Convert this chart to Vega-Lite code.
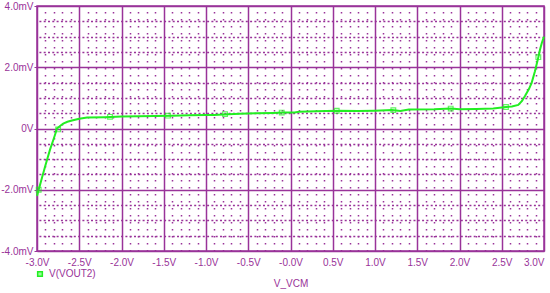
{
  "$schema": "https://vega.github.io/schema/vega-lite/v6.json",
  "autosize": {"type": "none"},
  "width": 507,
  "height": 245,
  "padding": {"left": 37, "top": 6, "right": 6, "bottom": 42},
  "background": "white",
  "config": {
    "view": {"stroke": "#993399", "strokeWidth": 1.5},
    "font": "Liberation Sans",
    "axis": {"labelFont": "Liberation Sans", "titleFont": "Liberation Sans", "labelColor": "#993399", "titleColor": "#993399", "labelFontSize": 10, "titleFontSize": 10, "titleFontWeight": "normal", "domain": false, "gridOpacity": 1},
    "legend": {"labelFont": "Liberation Sans", "labelColor": "#993399", "labelFontSize": 10}
  },
  "datasets": {
    "curve": [
      {"vcm": -3.0, "mv": -2.2}, {"vcm": -2.95, "mv": -1.7}, {"vcm": -2.9, "mv": -1.2}, {"vcm": -2.846, "mv": -0.69},
      {"vcm": -2.8, "mv": -0.32}, {"vcm": -2.763, "mv": 0.0}, {"vcm": -2.72, "mv": 0.1}, {"vcm": -2.69, "mv": 0.16},
      {"vcm": -2.64, "mv": 0.22}, {"vcm": -2.586, "mv": 0.26}, {"vcm": -2.5, "mv": 0.32}, {"vcm": -2.408, "mv": 0.36},
      {"vcm": -2.2, "mv": 0.37}, {"vcm": -2.0, "mv": 0.39}, {"vcm": -1.8, "mv": 0.4}, {"vcm": -1.6, "mv": 0.41},
      {"vcm": -1.4, "mv": 0.42}, {"vcm": -1.2, "mv": 0.43}, {"vcm": -1.0, "mv": 0.44}, {"vcm": -0.9, "mv": 0.44},
      {"vcm": -0.8, "mv": 0.46}, {"vcm": -0.6, "mv": 0.48}, {"vcm": -0.4, "mv": 0.5}, {"vcm": -0.2, "mv": 0.51},
      {"vcm": -0.1, "mv": 0.52}, {"vcm": 0.05, "mv": 0.52}, {"vcm": 0.1, "mv": 0.55}, {"vcm": 0.3, "mv": 0.56},
      {"vcm": 0.55, "mv": 0.58}, {"vcm": 0.8, "mv": 0.57}, {"vcm": 1.0, "mv": 0.58}, {"vcm": 1.2, "mv": 0.6},
      {"vcm": 1.3, "mv": 0.57}, {"vcm": 1.4, "mv": 0.62}, {"vcm": 1.7, "mv": 0.63}, {"vcm": 1.9, "mv": 0.65},
      {"vcm": 2.0, "mv": 0.63}, {"vcm": 2.2, "mv": 0.64}, {"vcm": 2.4, "mv": 0.65}, {"vcm": 2.55, "mv": 0.7},
      {"vcm": 2.62, "mv": 0.72}, {"vcm": 2.696, "mv": 0.77}, {"vcm": 2.74, "mv": 0.9}, {"vcm": 2.775, "mv": 1.06},
      {"vcm": 2.82, "mv": 1.28}, {"vcm": 2.854, "mv": 1.49}, {"vcm": 2.893, "mv": 1.87}, {"vcm": 2.933, "mv": 2.33},
      {"vcm": 2.953, "mv": 2.58}, {"vcm": 2.975, "mv": 2.8}, {"vcm": 3.0, "mv": 3.0}
    ],
    "markers": [
      {"vcm": -2.98, "mv": -2.0}, {"vcm": -2.75, "mv": -0.03}, {"vcm": -2.136, "mv": 0.38}, {"vcm": -1.45, "mv": 0.42},
      {"vcm": -0.775, "mv": 0.47}, {"vcm": -0.104, "mv": 0.52}, {"vcm": 0.547, "mv": 0.58}, {"vcm": 1.217, "mv": 0.6},
      {"vcm": 1.896, "mv": 0.65}, {"vcm": 2.55, "mv": 0.7}, {"vcm": 2.933, "mv": 2.33}
    ]
  },
  "resolve": {"axis": {"x": "independent", "y": "independent"}},
  "layer": [
    {
      "data": {"name": "curve"},
      "mark": {"type": "line", "strokeWidth": 2, "interpolate": "linear"},
      "encoding": {
        "x": {"field": "vcm", "type": "quantitative", "scale": {"domain": [-3, 3], "nice": false, "zero": false},
          "axis": {"orient": "top", "values": [-2.9,-2.8,-2.7,-2.6,-2.4,-2.3,-2.2,-2.1,-1.9,-1.8,-1.7,-1.6,-1.4,-1.3,-1.2,-1.1,-0.9,-0.8,-0.7,-0.6,-0.4,-0.3,-0.2,-0.1,0.1,0.2,0.3,0.4,0.6,0.7,0.8,0.9,1.1,1.2,1.3,1.4,1.6,1.7,1.8,1.9,2.1,2.2,2.3,2.4,2.6,2.7,2.8,2.9],
            "labels": false, "ticks": false, "title": null, "grid": true, "gridColor": "#993399", "gridWidth": 1.5, "gridDash": [1.5, 5.5]}},
        "y": {"field": "mv", "type": "quantitative", "scale": {"domain": [-4, 4], "nice": false, "zero": false},
          "axis": {"orient": "right", "values": [-3.5,-3,-2.5,-1.5,-1,-0.5,0.5,1,1.5,2.5,3,3.5],
            "labels": false, "ticks": false, "title": null, "grid": true, "gridColor": "#993399", "gridWidth": 1.5, "gridDash": [2, 2.3]}},
        "color": {"field": "series", "type": "nominal", "scale": {"range": ["#22ee22"]},
          "legend": {"title": null, "orient": "none", "legendX": -2, "legendY": 263, "symbolType": "square", "symbolSize": 22, "symbolStrokeWidth": 1.5, "symbolFillColor": "#99ff99", "symbolStrokeColor": "#22ee22", "labelOffset": 4}}
      },
      "transform": [{"calculate": "'V(VOUT2)'", "as": "series"}]
    },
    {
      "data": {"name": "markers"},
      "mark": {"type": "point", "shape": "square", "size": 22, "filled": false, "color": "#22ee22", "strokeWidth": 1.2},
      "encoding": {
        "x": {"field": "vcm", "type": "quantitative", "scale": {"domain": [-3, 3], "nice": false, "zero": false},
          "axis": {"orient": "bottom", "values": [-3,-2.5,-2,-1.5,-1,-0.5,0,0.5,1,1.5,2,2.5,3],
            "labelExpr": "datum.value == 0 ? '-0.0V' : (datum.value < 0 ? '-' : '') + format(abs(datum.value), '.1f') + 'V'",
            "labelAlign": {"condition": {"test": "datum.value == 3", "value": "right"}, "value": "center"},
            "ticks": false, "labelPadding": 6, "title": "V_VCM", "titlePadding": 11,
            "grid": true, "gridColor": "#993399", "gridWidth": 1.5}},
        "y": {"field": "mv", "type": "quantitative", "scale": {"domain": [-4, 4], "nice": false, "zero": false},
          "axis": {"orient": "left", "values": [-4,-2,0,2,4],
            "labelExpr": "datum.value == 0 ? '0V' : (datum.value < 0 ? '-' : '') + format(abs(datum.value), '.1f') + 'mV'",
            "ticks": true, "tickSize": 3, "tickColor": "#993399", "tickWidth": 1, "labelPadding": 1, "title": null,
            "grid": true, "gridColor": "#993399", "gridWidth": 1.5}}
      }
    }
  ]
}
